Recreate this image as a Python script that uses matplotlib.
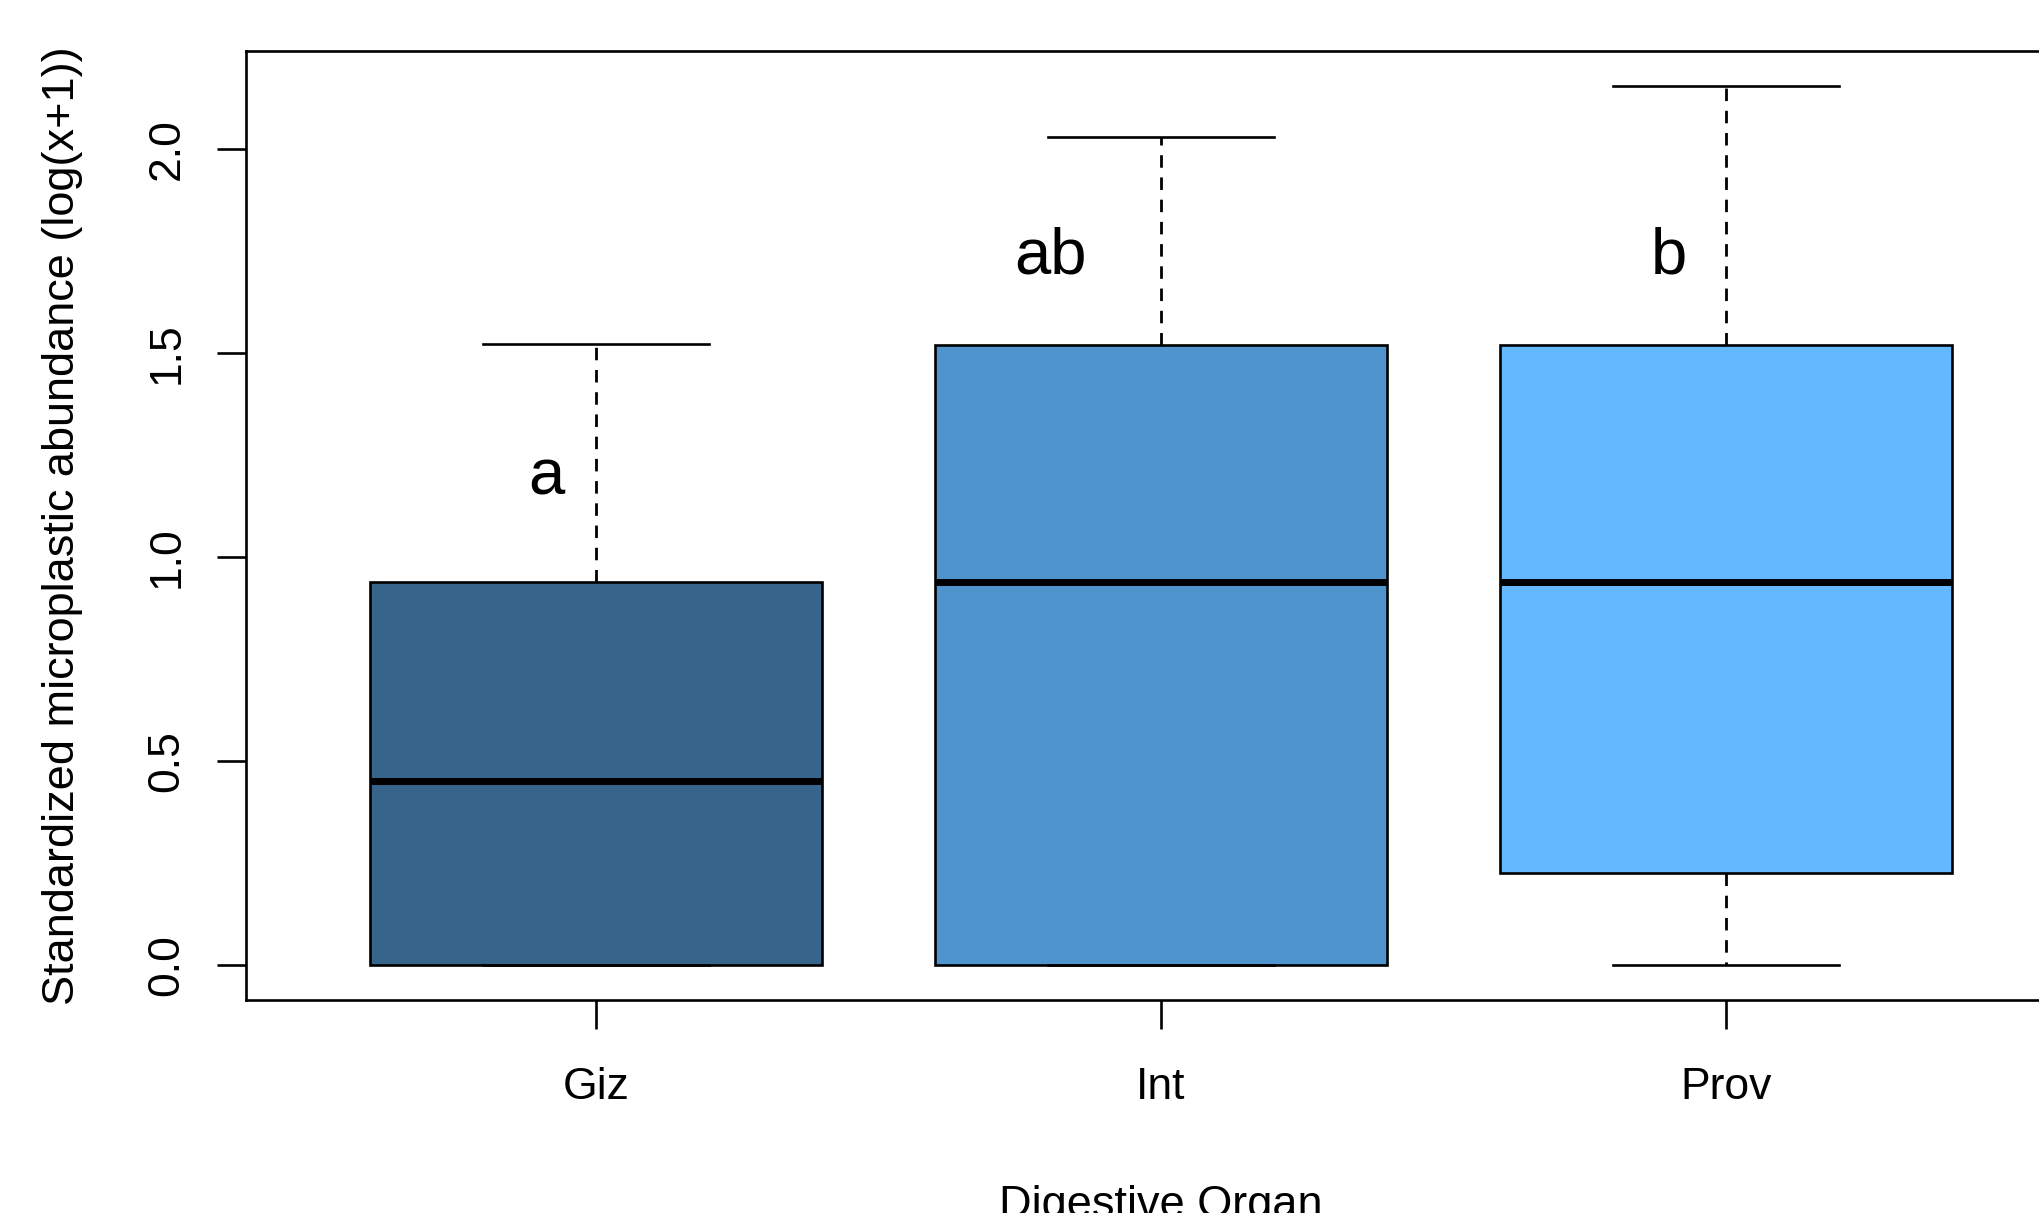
import matplotlib
matplotlib.use("Agg")
import matplotlib.pyplot as plt

# box statistics (log(x+1) scale)
organs = ["Giz", "Int", "Prov"]
q1 = [0.0, 0.0, 0.226]
medians = [0.45, 0.94, 0.94]
q3 = [0.94, 1.52, 1.52]
whisker_lo = [0.0, 0.0, 0.0]
whisker_hi = [1.522, 2.029, 2.156]
box_colors = ["#36648B", "#4F94CD", "#63B8FF"]

# significance letters and where they sit
letters = ["a", "ab", "b"]
letter_x = [0.912, 1.804, 2.90]
letter_y = [1.195, 1.738, 1.738]

plt.rcParams["font.family"] = ["Liberation Sans", "DejaVu Sans"]

fig = plt.figure(figsize=(20.4, 12.13), dpi=100)
# axes run slightly past the right edge, as in the original R output
ax = fig.add_axes([0.1206, 0.1756, 0.897, 0.7824])

stats = []
for i, name in enumerate(organs):
    stats.append({
        "label": name,
        "q1": q1[i],
        "med": medians[i],
        "q3": q3[i],
        "whislo": whisker_lo[i],
        "whishi": whisker_hi[i],
        "fliers": [],
    })

positions = list(range(1, len(organs) + 1))
bp = ax.bxp(stats, positions=positions, widths=0.8, capwidths=0.4,
            patch_artist=True, showfliers=False,
            boxprops=dict(linewidth=1.9, edgecolor="black"),
            medianprops=dict(color="black", linewidth=5, solid_capstyle="butt"),
            whiskerprops=dict(color="black", linewidth=2.0, linestyle=(0, (4.5, 3.5))),
            capprops=dict(color="black", linewidth=1.9))

for patch, c in zip(bp["boxes"], box_colors):
    patch.set_facecolor(c)

for lab, x, y in zip(letters, letter_x, letter_y):
    ax.text(x, y, lab, fontsize=47, ha="center", va="center")

# R-like limits (4% padding)
ax.set_xlim(0.38, 3.62)
ax.set_ylim(-0.0862, 2.2412)
ax.set_yticks([0.0, 0.5, 1.0, 1.5, 2.0])
ax.set_yticklabels(["0.0", "0.5", "1.0", "1.5", "2.0"], rotation=90, va="center")
ax.set_xticks(positions)
ax.set_xticklabels(organs)

ax.tick_params(axis="both", length=21, width=1.9, labelsize=32, colors="black")
ax.tick_params(axis="y", pad=21)
ax.tick_params(axis="x", pad=27)
for sp in ax.spines.values():
    sp.set_linewidth(1.9)

# the x label sits low and is clipped by the bottom edge, as in the reference
ax.set_xlabel("Digestive Organ", fontsize=32.5, labelpad=56)
ax.set_ylabel("Standardized microplastic abundance (log(x+1))", fontsize=32.5, labelpad=46)

fig.savefig("out.png", dpi=100)
